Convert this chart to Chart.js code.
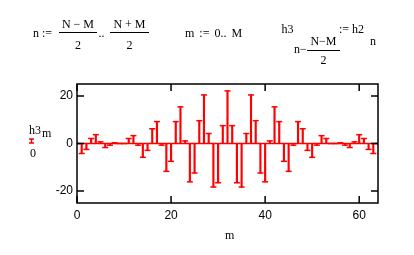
<!DOCTYPE html>
<html>
<head>
<meta charset="utf-8">
<script src="https://cdn.jsdelivr.net/npm/chart.js@4"></script>
<style>
  html, body { margin: 0; padding: 0; background: #fff; }
  #wrap { position: relative; width: 414px; height: 255px; overflow: hidden; }
  #chart { position: absolute; left: 0; top: 0; }
  .t { position: absolute; font-family: "Liberation Serif", "DejaVu Serif", serif; font-size: 12px;
       line-height: 12px; white-space: pre; color: #000; }
  .c { text-align: center; }
  .bar { position: absolute; height: 1px; background: #000; }
</style>
</head>
<body>
<div id="wrap">
  <canvas id="chart" width="414" height="255"></canvas>

  <!-- n := (N-M)/2 .. (N+M)/2 -->
  <div class="t" style="left:33px;top:26.7px">n :=</div>
  <div class="t c" style="left:59px;width:38px;top:18.3px">N − M</div>
  <div class="bar" style="left:59px;width:38px;top:32px"></div>
  <div class="t c" style="left:59px;width:38px;top:39px">2</div>
  <div class="t" style="left:98.5px;top:26.7px">..</div>
  <div class="t c" style="left:110px;width:39px;top:18.3px">N + M</div>
  <div class="bar" style="left:110px;width:39px;top:32px"></div>
  <div class="t c" style="left:110px;width:39px;top:39px">2</div>

  <!-- m := 0..M -->
  <div class="t" style="left:185px;top:27.3px;word-spacing:2px">m := 0.. M</div>

  <!-- h3[n-(N-M)/2] := h2[n] -->
  <div class="t" style="left:281.5px;top:23px">h3</div>
  <div class="t" style="left:294px;top:43.3px">n−</div>
  <div class="t c" style="left:307px;width:33px;top:35px">N−M</div>
  <div class="bar" style="left:307px;width:33px;top:49.5px"></div>
  <div class="t c" style="left:307px;width:33px;top:54.3px">2</div>
  <div class="t" style="left:339px;top:23px">:= h2</div>
  <div class="t" style="left:370px;top:34.7px">n</div>

  <!-- axis titles -->
  <div class="t" style="left:29px;top:124px">h3</div>
  <div class="t" style="left:42px;top:126.5px">m</div>
  <div class="t" style="left:30px;top:147px">0</div>
  <div class="t" style="left:225px;top:229px">m</div>
</div>

<script>
// sample index m = 0 .. M
const mIdx = [
  0, 1, 2, 3, 4, 5, 6, 7, 8, 9, 10, 11, 12, 13, 14, 15, 16,
  17, 18, 19, 20, 21, 22, 23, 24, 25, 26, 27, 28, 29, 30, 31, 32,
  33, 34, 35, 36, 37, 38, 39, 40, 41, 42, 43, 44, 45, 46, 47, 48,
  49, 50, 51, 52, 53, 54, 55, 56, 57, 58, 59, 60, 61, 62, 63, 64
];

// h3_m
const h3 = [
  0, -4.2, -2.5, 2.1, 3.7, 0.7, -1.7, -0.7, 0.3, 0, 0, 2.1, 3.3, -0.7, -5.8, -2.9, 6.2,
  9.2, -0.7, -11.7, -7.5, 9.2, 15.4, 1.1, -16.1, -12.4, 9.6, 20.4, 4.2, -18.3, -16.5, 7.5, 22.1,
  7.5, -16.5, -18.3, 4.2, 20.4, 9.6, -12.4, -16.1, 1.1, 15.4, 9.2, -7.5, -11.7, -0.7, 9.2, 6.2,
  -2.9, -5.8, -0.7, 3.3, 2.1, 0, 0, 0.3, -0.7, -1.7, 0.7, 3.7, 2.1, -2.5, -4.2, 0
];

// second trace: the constant 0
const zeroLine = [0, 0];
const zeroX = [0, 64];

const xTicks = [0, 20, 40, 60];
const yTicks = [-20, 0, 20];

const RED = '#ff0000';
const TICK_LEN = 7;

// box + inward tick marks (Mathcad style)
const boxPlugin = {
  id: 'box',
  afterDraw(chart) {
    const { ctx, chartArea: a, scales } = chart;
    ctx.save();
    ctx.strokeStyle = '#000';
    ctx.lineWidth = 1.5;
    ctx.strokeRect(a.left, a.top, a.right - a.left, a.bottom - a.top);
    ctx.beginPath();
    xTicks.forEach(v => {
      const px = scales.x.getPixelForValue(v);
      ctx.moveTo(px, a.bottom); ctx.lineTo(px, a.bottom - TICK_LEN);
      ctx.moveTo(px, a.top); ctx.lineTo(px, a.top + TICK_LEN);
    });
    yTicks.forEach(v => {
      const py = scales.y.getPixelForValue(v);
      ctx.moveTo(a.left, py); ctx.lineTo(a.left + TICK_LEN, py);
      ctx.moveTo(a.right, py); ctx.lineTo(a.right - TICK_LEN, py);
    });
    ctx.stroke();

    // little legend symbol under the y title
    ctx.strokeStyle = RED;
    ctx.lineWidth = 1.5;
    ctx.beginPath();
    ctx.moveTo(29, 139); ctx.lineTo(34, 139);
    ctx.moveTo(31.5, 139); ctx.lineTo(31.5, 143);
    ctx.moveTo(29, 143); ctx.lineTo(34, 143);
    ctx.stroke();
    ctx.restore();
  }
};

const tickFont = { family: '"Liberation Sans", Arial, sans-serif', size: 12 };

new Chart(document.getElementById('chart'), {
  type: 'bar',
  data: {
    datasets: [
      {
        // stems
        type: 'bar',
        data: h3.map((v, i) => ({ x: mIdx[i], y: v })),
        backgroundColor: RED,
        barThickness: 1.5,
        borderWidth: 0,
        order: 2
      },
      {
        // caps on the stems
        type: 'line',
        data: h3.map((v, i) => ({ x: mIdx[i], y: v })),
        showLine: false,
        pointStyle: 'line',
        pointRadius: 3,
        pointBorderColor: RED,
        pointBorderWidth: 1.5,
        order: 1
      },
      {
        // the 0 trace
        type: 'line',
        data: zeroLine.map((v, i) => ({ x: zeroX[i], y: v })),
        borderColor: RED,
        borderWidth: 1.5,
        pointRadius: 0,
        order: 0
      }
    ]
  },
  options: {
    responsive: false,
    animation: false,
    devicePixelRatio: 1,
    layout: { padding: { top: 84, right: 36, left: 0, bottom: 0 } },
    plugins: { legend: { display: false }, tooltip: { enabled: false } },
    scales: {
      x: {
        type: 'linear',
        min: 0,
        max: 64,
        offset: false,
        grid: { display: false, drawTicks: false, offset: false },
        border: { display: false },
        afterBuildTicks: s => { s.ticks = xTicks.map(v => ({ value: v })); },
        afterFit: s => { s.height = 52; },
        ticks: { font: tickFont, color: '#000', padding: 5, maxRotation: 0, autoSkip: false }
      },
      y: {
        min: -25,
        max: 25,
        grid: { display: false, drawTicks: false },
        border: { display: false },
        afterBuildTicks: s => { s.ticks = yTicks.map(v => ({ value: v })); },
        afterFit: s => { s.width = 77; },
        ticks: { font: tickFont, color: '#000', padding: 4 }
      }
    }
  },
  plugins: [boxPlugin]
});
</script>
</body>
</html>
